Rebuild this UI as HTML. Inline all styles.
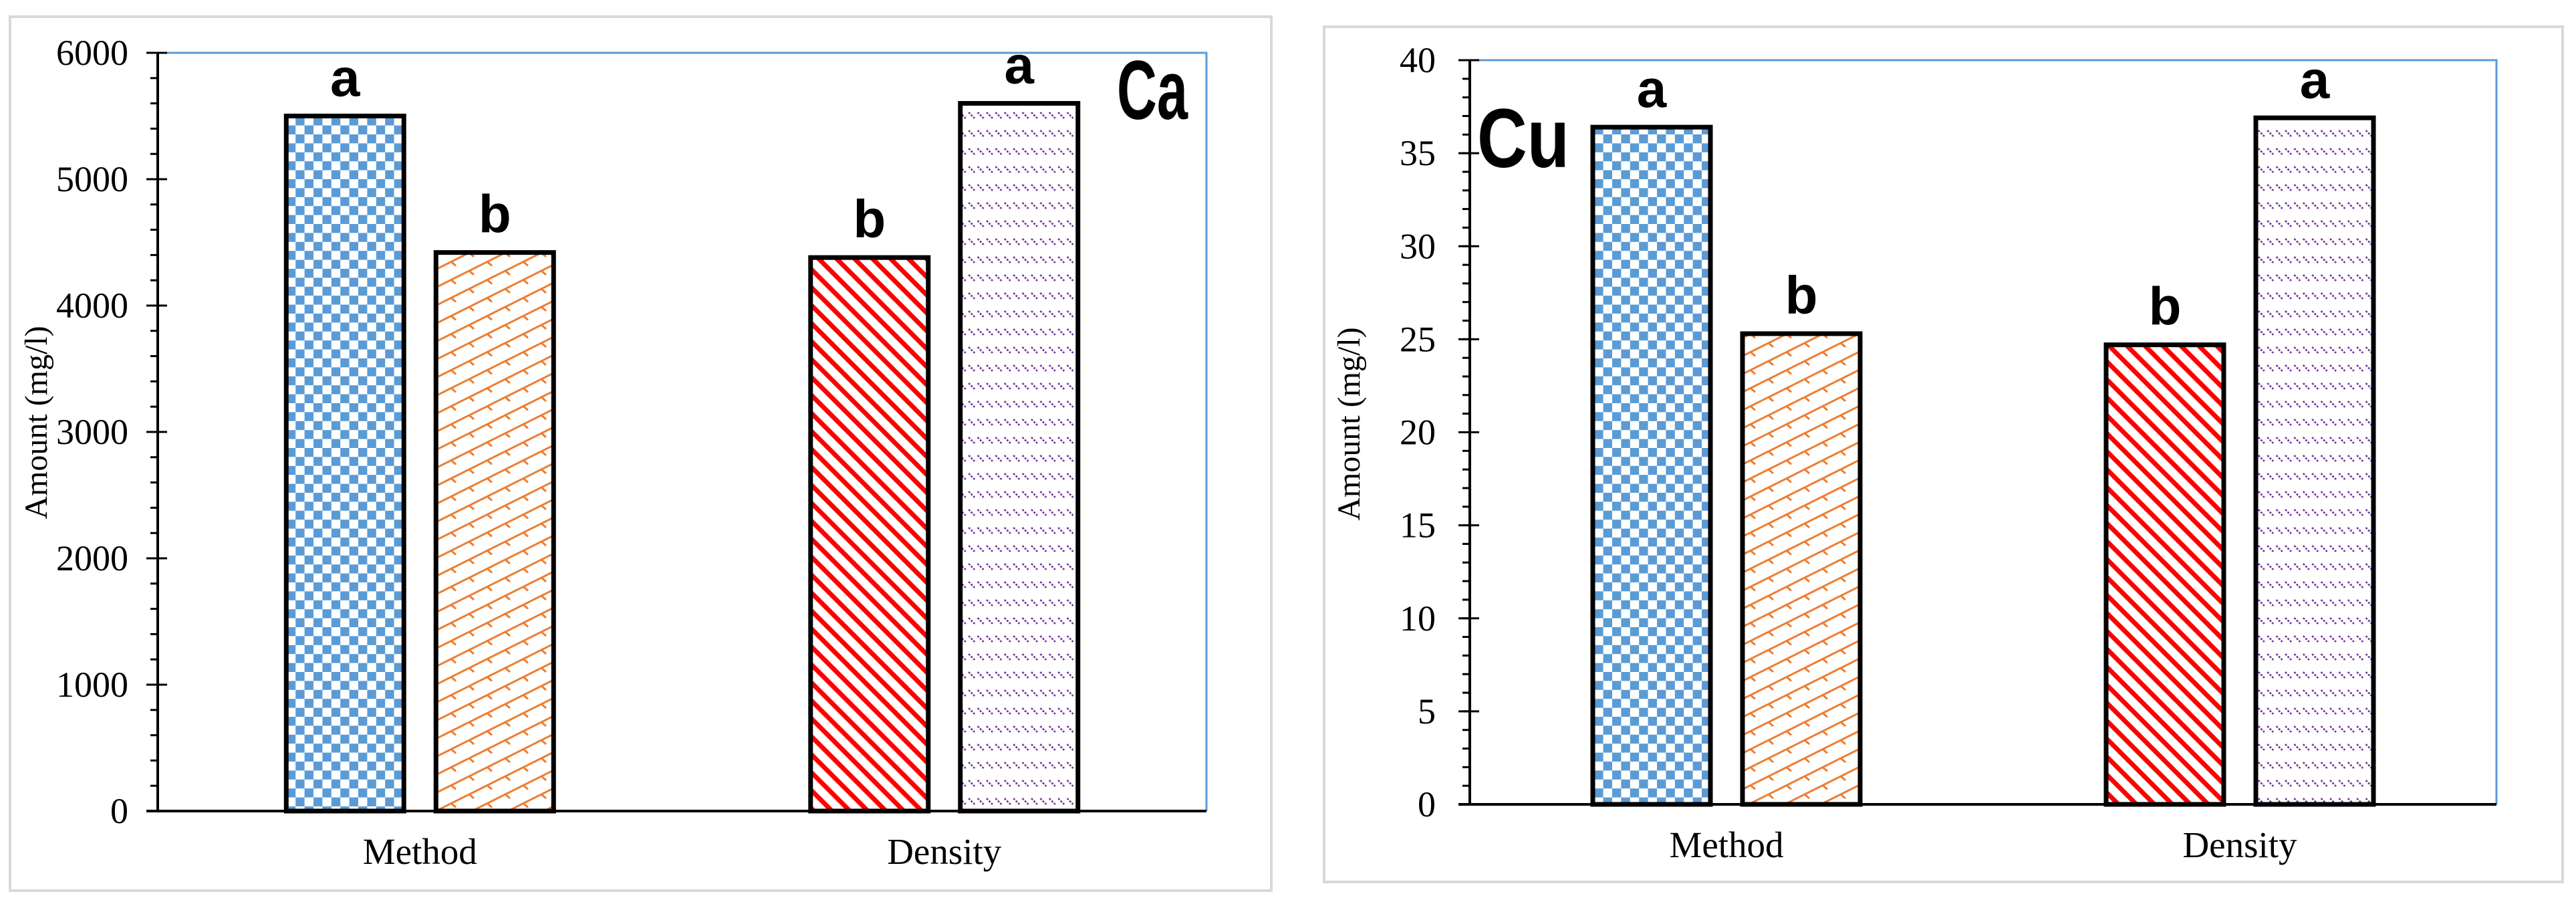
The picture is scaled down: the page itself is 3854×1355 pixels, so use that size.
<!DOCTYPE html>
<html><head><meta charset="utf-8"><style>
html,body{margin:0;padding:0;background:#fff}
svg{display:block}
</style></head><body>
<svg id="fig" width="3854" height="1355" viewBox="0 0 3854 1355" xmlns="http://www.w3.org/2000/svg">
<defs>
<pattern id="pChecker" patternUnits="userSpaceOnUse" width="26.8" height="26.8">
<rect width="26.8" height="26.8" fill="#fff"/>
<rect x="0" y="0" width="13.4" height="13.4" fill="#5b9bd5"/>
<rect x="13.4" y="13.4" width="13.4" height="13.4" fill="#5b9bd5"/>
</pattern>
<pattern id="pOrange" patternUnits="userSpaceOnUse" width="54" height="27">
<rect width="54" height="27" fill="#fff"/>
<path d="M0 27 L54 0 M-27 13.5 L27 -13.5 M27 40.5 L81 13.5 M0 0 L7 6 M27 13.5 L34 19.5 M-27 27 L-20 33" stroke="#ed7d31" stroke-width="3" fill="none"/>
</pattern>
<pattern id="pRed" patternUnits="userSpaceOnUse" width="19" height="19" patternTransform="rotate(-45)">
<rect width="19" height="19" fill="#fff"/>
<rect x="0" y="0" width="7" height="19" fill="#ff0000"/>
</pattern>
<pattern id="pPurple" patternUnits="userSpaceOnUse" width="13.4" height="27">
<rect width="13.4" height="27" fill="#fff"/>
<path d="M2 6 L11 15" stroke="#7030a0" stroke-width="2.6" stroke-dasharray="3 2"/>
</pattern>
</defs>
</svg>
<script>
// Left chart (Ca)
const caCategories = ["Method", "Density"];
const caSeries1 = [5500, 4380];
const caSeries2 = [4420, 5600];
const caLetters1 = ["a", "b"];
const caLetters2 = ["b", "a"];
const caTicks = [0, 1000, 2000, 3000, 4000, 5000, 6000];
// Right chart (Cu)
const cuCategories = ["Method", "Density"];
const cuSeries1 = [36.4, 24.7];
const cuSeries2 = [25.3, 36.9];
const cuLetters1 = ["a", "b"];
const cuLetters2 = ["b", "a"];
const cuTicks = [0, 5, 10, 15, 20, 25, 30, 35, 40];

const NS = "http://www.w3.org/2000/svg";
const svg = document.getElementById("fig");
function mk(tag, attrs, parent, text) {
  const e = document.createElementNS(NS, tag);
  for (const k in attrs) e.setAttribute(k, attrs[k]);
  if (text !== undefined) e.textContent = text;
  (parent || svg).appendChild(e);
  return e;
}

function drawChart(cfg) {
  const g = mk("g", {});
  
  
  const fr = mk("rect", {x: cfg.frame[0], y: cfg.frame[1], width: cfg.frame[2]-cfg.frame[0], height: cfg.frame[3]-cfg.frame[1], fill: "#fff", stroke: "#d9d9d9", "stroke-width": 4}, g);
  
  
  const L = cfg.left, R = cfg.right, T = cfg.top, B = cfg.bottom;
  const yScale = v => B - (v - cfg.min) / (cfg.max - cfg.min) * (B - T);
  const bandW = (R - L) / cfg.categories.length;
  const xCenter = i => L + bandW * (i + 0.5);
  // plot border top/right
  const pb = mk("path", {d: `M${L} ${T} L${R} ${T} L${R} ${B}`, fill: "none", stroke: "#5b9bd5", "stroke-width": 3}, g);
  
  
  // minor ticks
  const minorG = mk("g", {}, g);
  
  
  for (let v = cfg.min; v <= cfg.max + 1e-9; v += cfg.minor) {
    mk("line", {x1: L - 11, x2: L, y1: yScale(v), y2: yScale(v), stroke: "#000", "stroke-width": 3}, minorG);
  }
  // major ticks + labels
  cfg.ticks.forEach(t => {
    const ln = mk("line", {x1: L - 17, x2: L + 14, y1: yScale(t), y2: yScale(t), stroke: "#000", "stroke-width": 3}, g);
    
    
    const tx = mk("text", {x: cfg.labelRight, y: yScale(t) + 18, "text-anchor": "end", "font-family": "Liberation Serif, serif", "font-size": 54, fill: "#000"}, g, String(t));
    
    
  });
  // axes
  const ya = mk("line", {x1: L, x2: L, y1: T, y2: B, stroke: "#000", "stroke-width": 4}, g);
  
  
  // bars
  const patterns = [cfg.patterns1, cfg.patterns2];
  const series = [cfg.s1, cfg.s2];
  const letters = [cfg.l1, cfg.l2];
  const barW = 176, off = 112;
  cfg.categories.forEach((c, i) => {
    [0, 1].forEach(s => {
      const v = series[s][i];
      const cx = xCenter(i) + (s === 0 ? -off : off);
      const y = yScale(v);
      const r = mk("rect", {x: cx - barW/2, y: y, width: barW, height: B - y, fill: `url(#${patterns[s][i]})`, stroke: "#000", "stroke-width": 7}, g);
      
      
      const lt = mk("text", {x: cx, y: y - 30, "text-anchor": "middle", "font-family": "Liberation Sans, sans-serif", "font-weight": "bold", "font-size": 80, fill: "#000"}, g, letters[s][i]);
      
      
    });
    const cl = mk("text", {x: xCenter(i), y: cfg.catBaseline, "text-anchor": "middle", "font-family": "Liberation Serif, serif", "font-size": 55, fill: "#000"}, g, c);
    
    
  });
  const xa = mk("line", {x1: L - 17, x2: R, y1: B, y2: B, stroke: "#000", "stroke-width": 4}, g);
  
  
  // y title
  const yt = mk("text", {x: cfg.titleX, y: cfg.titleY, "text-anchor": "middle", "font-family": "Liberation Serif, serif", "font-size": 48, fill: "#000", transform: `rotate(-90 ${cfg.titleX} ${cfg.titleY})`, "xml:space": "preserve"}, g, "Amount  (mg/l)");
  
  
  // element label
  const el = mk("text", {x: cfg.elX, y: cfg.elY, "font-family": "Liberation Sans, sans-serif", "font-weight": "bold", "font-size": 125, fill: "#000", textLength: cfg.elW, lengthAdjust: "spacingAndGlyphs"}, g, cfg.element);
  
  
}

drawChart({
  name: "calcium-chart", element: "Ca",
  frame: [15, 25, 1902, 1332],
  left: 236, right: 1805, top: 79, bottom: 1213,
  min: 0, max: 6000, minor: 200, ticks: caTicks,
  categories: caCategories, s1: caSeries1, s2: caSeries2, l1: caLetters1, l2: caLetters2,
  patterns1: ["pChecker", "pRed"], patterns2: ["pOrange", "pPurple"],
  labelRight: 192, catBaseline: 1292, titleX: 70, titleY: 632,
  elX: 1671, elY: 178, elW: 106
});
drawChart({
  name: "copper-chart", element: "Cu",
  frame: [1981, 40, 3834, 1319],
  left: 2199, right: 3735, top: 90, bottom: 1203,
  min: 0, max: 40, minor: 1, ticks: cuTicks,
  categories: cuCategories, s1: cuSeries1, s2: cuSeries2, l1: cuLetters1, l2: cuLetters2,
  patterns1: ["pChecker", "pRed"], patterns2: ["pOrange", "pPurple"],
  labelRight: 2148, catBaseline: 1282, titleX: 2034, titleY: 634,
  elX: 2210, elY: 250, elW: 138
});
</script>
</body></html>
